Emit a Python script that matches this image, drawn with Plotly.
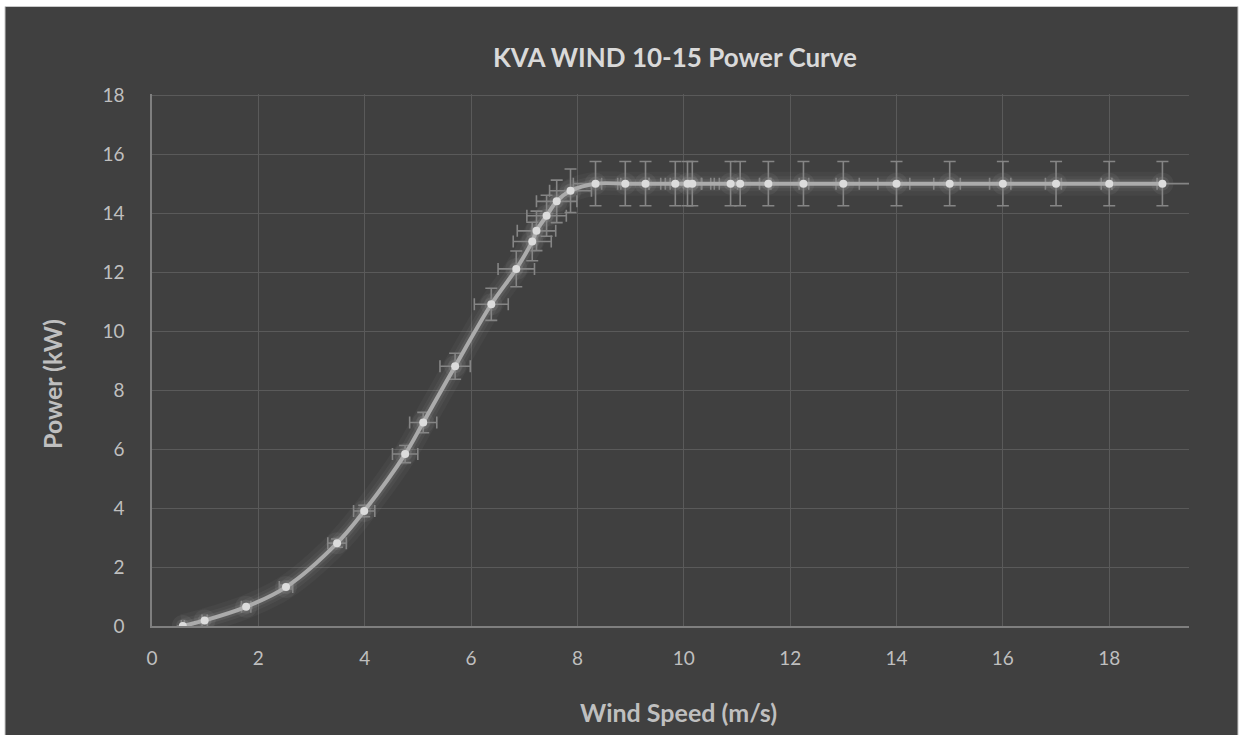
import plotly.graph_objects as go

# Data
wind_speed = [0.58, 0.99, 1.77, 2.52, 3.48, 3.99, 4.76, 5.10, 5.70, 6.38, 6.85, 7.15, 7.23,
              7.42, 7.61, 7.87, 8.34, 8.90, 9.28, 9.84, 10.07, 10.16, 10.88, 11.06, 11.59,
              12.25, 13.0, 14.0, 15.0, 16.0, 17.0, 18.0, 19.0]
power_kw = [0.0, 0.19, 0.65, 1.32, 2.81, 3.90, 5.83, 6.90, 8.81, 10.91, 12.11, 13.04, 13.40,
            13.91, 14.40, 14.76, 15.0, 15.0, 15.0, 15.0, 15.0, 15.0, 15.0, 15.0, 15.0,
            15.0, 15.0, 15.0, 15.0, 15.0, 15.0, 15.0, 15.0]
error_pct = 5
x_ticks = [0, 2, 4, 6, 8, 10, 12, 14, 16, 18]
y_ticks = [0, 2, 4, 6, 8, 10, 12, 14, 16, 18]

title_text = "KVA WIND 10-15 Power Curve"
x_title = "Wind Speed (m/s)"
y_title = "Power (kW)"

W, H = 1249, 735
L, R, T, B = 152, 60, 94, 109
pw = W - L - R
ph = H - T - B


def px_x(p):
    return (p - L) / pw


def px_y(p):
    return (H - B - p) / ph


fig = go.Figure()

# glow layers
for w, a in [(24, 0.03), (15, 0.045), (9, 0.07)]:
    fig.add_trace(go.Scatter(
        x=wind_speed, y=power_kw, mode="lines",
        line=dict(color=f"rgba(255,255,255,{a})", width=w, shape="spline", smoothing=1),
        hoverinfo="skip", showlegend=False))
for s, a in [(22, 0.05), (14, 0.08)]:
    fig.add_trace(go.Scatter(
        x=wind_speed, y=power_kw, mode="markers",
        marker=dict(color=f"rgba(255,255,255,{a})", size=s, line=dict(width=0)),
        hoverinfo="skip", showlegend=False))

fig.add_trace(go.Scatter(
    x=wind_speed, y=power_kw, mode="lines+markers",
    line=dict(color="#ababab", width=4, shape="spline", smoothing=1),
    marker=dict(color="#dcdcdc", size=8, line=dict(width=0)),
    error_x=dict(type="percent", value=error_pct, color="#858585", thickness=1.6, width=6),
    error_y=dict(type="percent", value=error_pct, color="#858585", thickness=1.6, width=6),
    showlegend=False))

fig.add_shape(type="rect", xref="paper", yref="paper",
              x0=px_x(5), x1=px_x(1238), y0=px_y(736), y1=px_y(6.5),
              fillcolor="#404040", line=dict(color="#c8c8c8", width=1), layer="below")

tick_font = dict(family="Lato", size=19, color="#bfbfbf")
fig.update_layout(
    width=W, height=H,
    margin=dict(l=L, r=R, t=T, b=B),
    paper_bgcolor="#ffffff",
    plot_bgcolor="#404040",
    xaxis=dict(range=[0, 19.5], tickvals=x_ticks, ticktext=[str(v) for v in x_ticks],
               showgrid=True, gridcolor="#5a5a5a", gridwidth=1,
               showline=True, linecolor="#7f7f7f", linewidth=2,
               zeroline=False, ticks="", tickfont=tick_font, ticklabelstandoff=14),
    yaxis=dict(range=[0, 18.04], tickvals=y_ticks, ticktext=[str(v) for v in y_ticks],
               showgrid=True, gridcolor="#5a5a5a", gridwidth=1,
               showline=True, linecolor="#7f7f7f", linewidth=1.5,
               zeroline=False, ticks="", tickfont=tick_font, ticklabelstandoff=22),
    annotations=[
        dict(text=f"<b>{title_text}</b>", x=px_x(675), y=px_y(57), xref="paper", yref="paper",
             showarrow=False, xanchor="center", yanchor="middle",
             font=dict(family="Lato", size=26, color="#d9d9d9")),
        dict(text=f"<b>{x_title}</b>", x=px_x(678), y=px_y(712), xref="paper", yref="paper",
             showarrow=False, xanchor="center", yanchor="middle",
             font=dict(family="Lato", size=25, color="#bfbfbf")),
        dict(text=f"<b>{y_title}</b>", x=px_x(52), y=px_y(384), xref="paper", yref="paper",
             showarrow=False, xanchor="center", yanchor="middle", textangle=-90,
             font=dict(family="Lato", size=25, color="#bfbfbf")),
    ],
)

fig.write_html("out.html", config={"displayModeBar": False},
               post_script="document.body.style.margin='0';document.body.style.overflow='hidden';")
